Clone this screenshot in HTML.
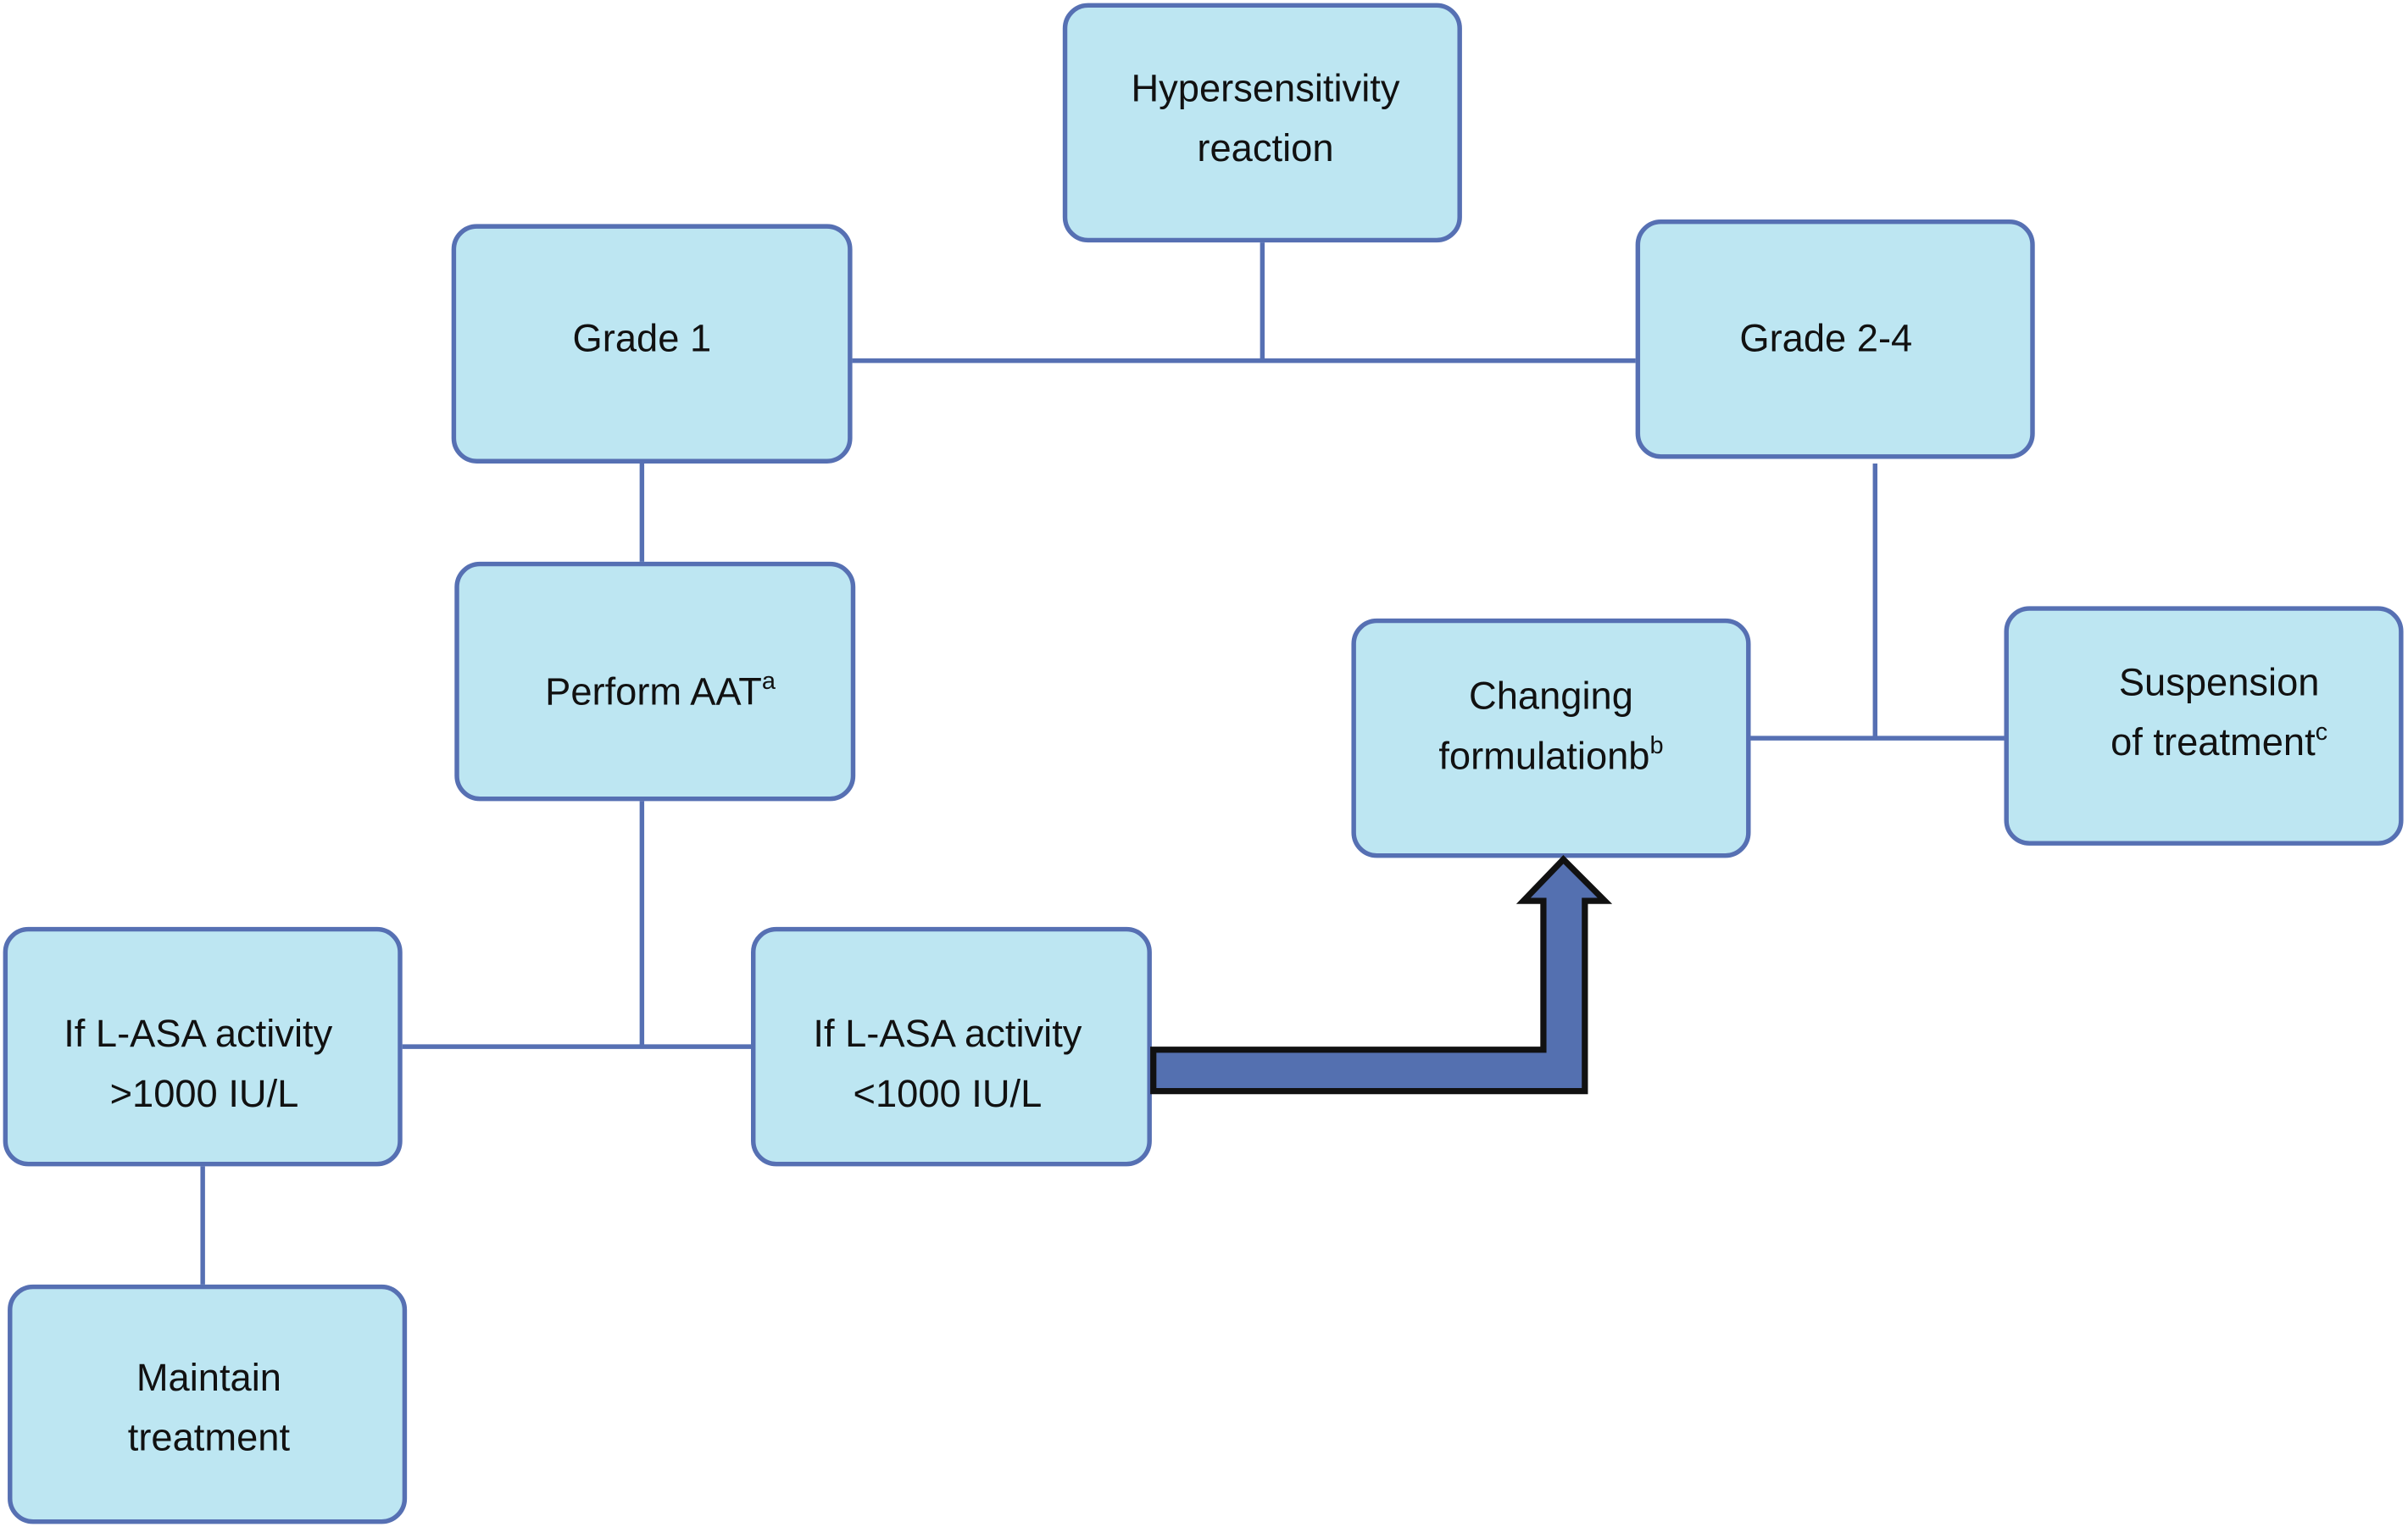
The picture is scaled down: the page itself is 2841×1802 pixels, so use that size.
<!DOCTYPE html>
<html><head><meta charset="utf-8"><style>
html,body{margin:0;padding:0;background:#fff;}
svg{display:block;}
text{font-family:"Liberation Sans",sans-serif;font-size:25px;fill:#111;text-anchor:middle;}
</style></head><body>
<svg width="2841" height="1802" viewBox="0 0 1568 995" preserveAspectRatio="none" xmlns="http://www.w3.org/2000/svg">
<g stroke="#5670b3" stroke-width="3" fill="none">
<line x1="822" y1="158" x2="822" y2="235"/>
<line x1="555" y1="235" x2="1065" y2="235"/>
<line x1="418" y1="302" x2="418" y2="366"/>
<line x1="1221" y1="302" x2="1221" y2="481"/>
<line x1="1140" y1="481" x2="1305" y2="481"/>
<line x1="418" y1="522" x2="418" y2="682"/>
<line x1="262" y1="682" x2="489" y2="682"/>
<line x1="132" y1="760" x2="132" y2="837"/>
</g>
<g fill="#bde6f2" stroke="#5670b3" stroke-width="3">
<rect x="693.5" y="3.5" width="257" height="153" rx="15"/>
<rect x="295.5" y="147.5" width="258" height="153" rx="15"/>
<rect x="1066.5" y="144.5" width="257" height="153" rx="15"/>
<rect x="297.5" y="367.5" width="258" height="153" rx="15"/>
<rect x="881.5" y="404.5" width="257" height="153" rx="15"/>
<rect x="1306.5" y="396.5" width="257" height="153" rx="15"/>
<rect x="3.5" y="605.5" width="257" height="153" rx="15"/>
<rect x="490.5" y="605.5" width="258" height="153" rx="15"/>
<rect x="6.5" y="838.5" width="257" height="153" rx="15"/>
</g>
<path d="M751,684 H1005 V587 H992 L1018,560 L1045,587 H1032 V711 H751 Z" fill="#5470b0" stroke="#111" stroke-width="4" stroke-linejoin="miter"/>
<text x="824" y="66">Hypersensitivity</text>
<text x="824" y="105">reaction</text>
<text x="418" y="229">Grade 1</text>
<text x="1189" y="229">Grade 2-4</text>
<text x="430" y="459">Perform AAT<tspan font-size="16" dy="-10">a</tspan></text>
<text x="1010" y="462">Changing</text>
<text x="1010" y="501">formulationb<tspan font-size="16" dy="-10">b</tspan></text>
<text x="1445" y="453">Suspension</text>
<text x="1445" y="492">of treatment<tspan font-size="16" dy="-10">c</tspan></text>
<text x="129" y="682">If L-ASA activity</text>
<text x="133" y="721">&gt;1000 IU/L</text>
<text x="617" y="682">If L-ASA activity</text>
<text x="617" y="721">&lt;1000 IU/L</text>
<text x="136" y="906">Maintain</text>
<text x="136" y="945">treatment</text>
</svg>
</body></html>
